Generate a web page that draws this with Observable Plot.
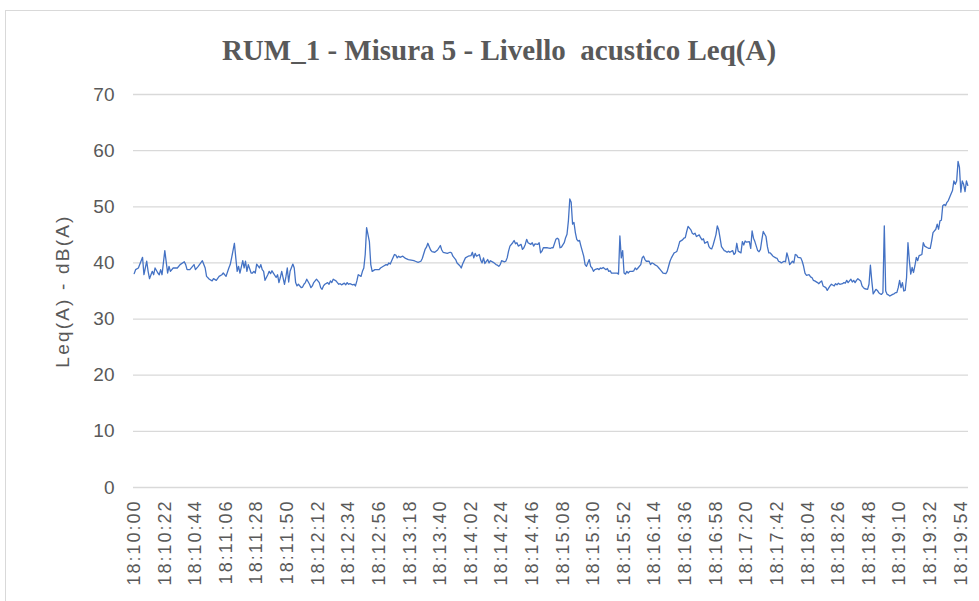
<!DOCTYPE html>
<html>
<head>
<meta charset="utf-8">
<script src="https://cdn.jsdelivr.net/npm/d3@7"></script>
<script src="https://cdn.jsdelivr.net/npm/@observablehq/plot@0.6"></script>
<style>
  html, body { margin: 0; padding: 0; background: #fff; }
  body { width: 979px; height: 601px; overflow: hidden; position: relative; }
  #frame { position: absolute; left: 5px; top: 10px; width: 1200px; height: 1200px;
           border-left: 1px solid #d9d9d9; border-top: 1px solid #d9d9d9; box-sizing: border-box; }
  #title { position: absolute; left: 199px; width: 600px; top: 35px; text-align: center;
           font-family: "Liberation Serif", "Times New Roman", serif; font-weight: bold;
           font-size: 29px; line-height: 30px; color: #595959; white-space: pre; }
  #chart { position: absolute; left: 0; top: 70px; }
</style>
</head>
<body>
<div id="frame"></div>
<div id="title"></div>
<div id="chart"></div>
<script>
const titleText = "RUM_1 - Misura 5 - Livello  acustico Leq(A)";
const yLabel = "Leq(A) - dB(A)";
const startTime = "18:10:00";
const yTicks = [0, 10, 20, 30, 40, 50, 60, 70];
const tickLabels = ["18:10:00","18:10:22","18:10:44","18:11:06","18:11:28","18:11:50","18:12:12",
  "18:12:34","18:12:56","18:13:18","18:13:40","18:14:02","18:14:24","18:14:46","18:15:08",
  "18:15:30","18:15:52","18:16:14","18:16:36","18:16:58","18:17:20","18:17:42","18:18:04",
  "18:18:26","18:18:48","18:19:10","18:19:32","18:19:54"];

// seconds elapsed since 18:10:00
const seconds = [0,1,3,6,7,9,10,11,13,14,15,17,18,19,20,22,24,25,26,28,31,33,36,37,38,40,43,44,46,49,
51,52,54,56,57,59,61,63,64,66,68,69,70,72,73,74,75,76,78,79,80,81,82,84,85,86,87,88,90,91,
92,93,94,96,97,98,99,100,102,103,104,105,106,108,109,110,111,112,114,115,116,117,118,120,121,122,123,124,126,127,
128,129,131,133,134,135,136,137,139,140,141,142,143,145,146,147,148,149,151,152,153,154,155,157,158,159,160,161,163,164,
165,166,167,169,170,171,173,176,177,179,181,182,183,184,185,187,188,189,190,191,193,195,197,199,201,202,204,206,207,208,
209,210,211,213,214,216,218,220,221,222,225,227,228,229,231,232,234,235,236,238,240,242,243,244,245,246,248,249,250,251,
252,254,255,256,258,260,261,262,263,264,266,267,268,269,270,272,273,274,275,276,278,279,280,281,282,283,285,286,287,288,
290,291,292,293,294,297,299,300,301,303,304,305,306,307,309,310,311,312,313,314,315,316,317,318,319,320,321,322,323,324,
325,327,328,329,330,331,333,334,335,336,337,339,340,341,342,343,345,346,347,348,349,350,351,352,353,354,355,356,358,359,
360,361,362,364,365,366,367,368,370,371,372,373,374,376,377,378,379,380,382,383,384,385,386,388,389,390,391,392,394,395,
396,397,398,400,401,402,403,404,406,407,408,409,410,412,413,414,415,416,418,419,420,421,422,424,425,426,427,428,430,431,
432,433,434,436,437,438,439,440,442,443,444,445,446,448,449,450,451,452,454,455,456,457,458,459,461,462,463,464,465,467,
468,469,470,471,473,474,475,476,477,479,480,481,482,483,485,486,487,488,489,491,492,493,494,495,497,498,499,500,501,503,
504,505,506,507,509,510,511,512,513,515,516,517,518,519,520,522,523,524,525,527,528,529,530,531,533,534,535,536,537,538,
539,540,541,542,543,545,546,547,548,549,550,551,552,553,554,555,556,557,558,559,560,561,562,563,564,565,566,567,568,570,
571,572,573,574,576,577,578,579,580,581,582,583,584,585,587,588,589,590,591,592,593,594,595,596,597,598,599];

// Leq(A) in dB(A)
const leq = [38.1,38.8,39.1,41.0,37.9,40.3,38.5,37.2,38.5,37.9,39.1,38.2,37.9,38.8,37.9,42.2,38.2,39.4,38.5,39.1,39.1,39.7,40.2,39.7,38.8,38.8,39.7,38.8,39.4,40.4,
39.1,37.6,37.1,36.8,37.2,36.9,37.6,37.9,38.2,37.6,39.1,39.7,40.9,43.5,40.9,38.5,39.4,38.2,40.4,39.1,40.3,38.5,39.7,38.2,38.2,38.5,38.2,39.8,39.1,39.7,
38.8,38.5,36.9,37.9,38.5,38.1,38.6,38.2,37.4,37.9,36.5,37.4,38.5,36.2,37.5,39.1,36.6,38.5,39.8,39.1,36.5,35.9,36.2,35.6,35.7,36.2,36.5,37.1,36.2,35.6,
35.9,36.5,37.1,36.5,35.6,35.3,35.9,36.2,36.5,36.2,36.8,36.5,37.1,36.8,36.5,36.2,36.3,36.1,36.4,36.1,36.5,36.2,36.3,36.1,36.2,35.9,36.8,37.9,37.6,38.5,
39.1,41.5,46.3,43.8,39.7,38.5,38.8,38.8,39.1,39.4,39.7,39.6,40.0,39.8,40.4,41.5,41.4,40.9,41.2,41.0,41.2,40.8,40.6,40.5,40.4,40.3,40.1,40.3,40.8,41.6,
42.4,42.8,43.5,42.3,42.0,41.9,42.3,43.1,42.3,41.9,41.7,41.9,41.8,41.2,40.6,40.0,39.5,39.1,39.8,40.9,41.2,41.3,41.9,40.9,41.7,41.2,41.5,40.5,40.0,40.9,
39.9,40.6,40.0,40.4,40.1,39.7,39.6,39.4,39.7,40.4,40.2,40.3,40.9,42.1,43.0,43.6,44.0,43.4,43.6,43.0,43.3,42.4,42.7,43.3,44.2,43.6,43.3,43.6,43.0,43.4,
43.3,43.6,41.8,42.1,42.7,42.7,42.6,42.7,42.7,44.2,44.4,44.2,42.7,42.8,43.6,44.5,45.1,47.5,51.4,50.8,46.9,47.2,45.4,44.2,43.9,44.0,43.0,42.1,41.2,39.7,
39.4,40.6,39.4,39.1,38.5,38.8,39.0,38.8,39.1,39.0,39.2,38.8,39.0,38.5,38.6,38.2,38.2,38.2,38.2,38.0,44.8,40.9,42.2,38.2,38.0,38.5,38.2,38.5,38.5,38.6,
39.1,38.8,39.1,39.7,40.9,41.2,40.6,40.3,40.3,39.7,40.0,39.9,39.7,39.4,39.1,38.8,38.5,38.2,38.1,38.5,39.4,40.3,40.9,41.8,41.9,42.1,42.9,43.8,44.1,44.4,
44.5,45.6,46.5,45.9,45.3,45.1,45.3,44.7,45.0,44.5,44.1,44.3,43.5,43.8,42.9,42.6,42.5,43.2,45.0,46.6,45.9,44.4,42.9,42.2,42.1,41.9,42.1,41.9,42.2,41.5,
41.8,43.5,42.1,41.8,43.8,43.2,43.9,43.7,43.8,42.6,45.7,44.4,43.8,42.2,42.0,42.4,44.1,45.6,44.7,42.9,41.8,41.8,41.5,41.2,40.9,40.8,40.3,40.2,40.0,40.3,
40.2,41.8,40.9,39.7,40.3,40.0,41.5,41.4,41.0,40.9,40.3,39.4,38.2,37.8,37.9,37.5,37.4,36.9,36.8,36.5,36.3,36.6,36.8,35.9,35.6,35.1,35.5,35.9,36.2,35.9,
36.3,36.1,36.4,36.2,36.3,36.5,36.4,36.9,36.5,37.1,36.6,36.9,36.5,36.9,37.2,36.8,35.9,35.6,35.4,35.3,36.2,39.6,36.8,34.5,35.3,35.1,34.7,34.5,34.4,34.7,
46.6,35.0,34.4,34.3,34.1,34.4,34.5,34.7,34.7,35.6,36.9,35.6,36.5,35.0,35.1,37.4,43.6,40.4,38.0,39.2,38.3,39.5,41.0,40.4,41.3,41.4,41.5,43.6,43.0,42.7,
42.6,42.6,43.9,45.4,46.0,46.9,46.0,47.5,47.6,50.2,50.4,50.2,50.8,51.1,52.3,52.9,54.6,54.0,54.6,58.1,57.0,52.6,54.6,54.0,52.7,54.6,53.8];

const toSec = (s) => { const [h, m, x] = s.split(":").map(Number); return h * 3600 + m * 60 + x; };
const t0 = toSec(startTime);
const tickSeconds = tickLabels.map((s) => toSec(s) - t0);
const labelOf = new Map(tickSeconds.map((t, i) => [t, tickLabels[i]]));
const data = seconds.map((t, i) => ({t, v: leq[i]}));

document.getElementById("title").textContent = titleText;

const plot = Plot.plot({
  width: 979,
  height: 531,
  marginTop: 24,
  marginBottom: 114,
  marginLeft: 133,
  marginRight: 11,
  style: {fontFamily: "'Liberation Sans', Arial, sans-serif", color: "#595959", background: "transparent", overflow: "visible"},
  x: {type: "linear", domain: [-0.5, 599.5]},
  y: {domain: [0, 70]},
  marks: [
    Plot.gridY(yTicks, {stroke: "#d9d9d9", strokeOpacity: 1, strokeWidth: 1.3}),
    Plot.axisY(yTicks, {tickSize: 0, tickPadding: 19, fontSize: 19, fill: "#595959", label: null}),
    Plot.axisX(tickSeconds, {tickSize: 0, tickRotate: -90, tickPadding: 12, fontSize: 18, fill: "#595959",
      tickFormat: (d) => labelOf.get(d), label: null}),
    Plot.line(data, {x: "t", y: "v", stroke: "#4472C4", strokeWidth: 1.3}),
    Plot.text([yLabel], {frameAnchor: "left", textAnchor: "middle", dx: -71, rotate: -90, fontSize: 19,
      fill: "#595959", text: (d) => d})
  ]
});
document.getElementById("chart").appendChild(plot);

plot.querySelectorAll('[aria-label="x-axis tick label"] text').forEach((el) => el.setAttribute("letter-spacing", "2"));
plot.querySelectorAll('[aria-label="text"] text').forEach((el) => el.setAttribute("letter-spacing", "2.2"));
</script>
</body>
</html>
